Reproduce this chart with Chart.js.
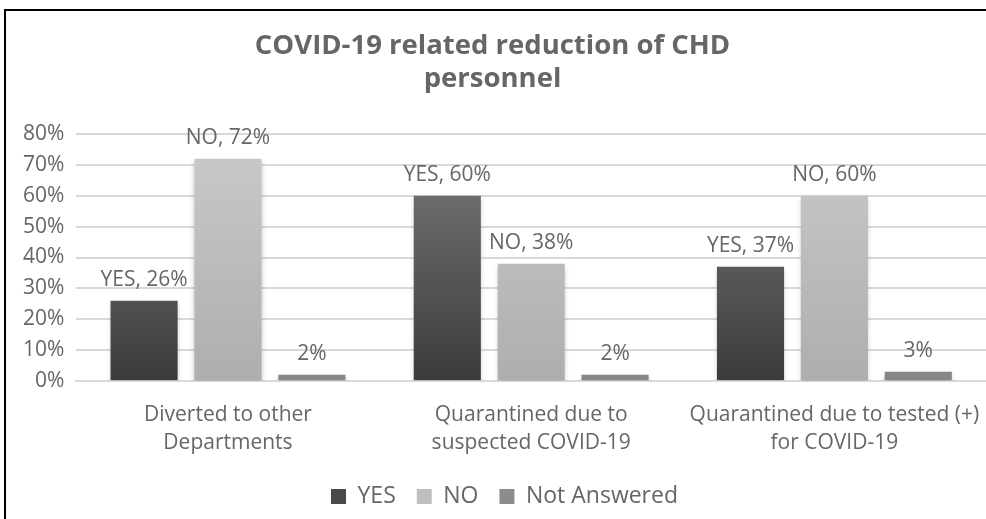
<!DOCTYPE html>
<html>
<head>
<meta charset="utf-8">
<script src="https://cdn.jsdelivr.net/npm/chart.js@4"></script>
<style>
  html, body { margin: 0; padding: 0; background: #fff; overflow: hidden; }
  #wrap { position: relative; width: 986px; height: 519px; }
  #frame {
    position: absolute; left: 4px; top: 9px; right: -4px; bottom: -4px;
    border-left: 2px solid #000; border-top: 2px solid #000;
    pointer-events: none;
  }
</style>
</head>
<body>
<div id="wrap">
  <canvas id="chart" width="986" height="519"></canvas>
  <div id="frame"></div>
</div>
<script>
// chart values
const categories = [
  ['Diverted to other', 'Departments'],
  ['Quarantined due to', 'suspected COVID-19'],
  ['Quarantined due to tested (+)', 'for COVID-19']
];
const seriesNames = ['YES', 'NO', 'Not Answered'];
const yesValues = [26, 60, 37];
const noValues = [72, 38, 60];
const notAnsweredValues = [2, 2, 3];
const yTicks = [0, 10, 20, 30, 40, 50, 60, 70, 80];

const textColor = '#666666';
const fontFamily = '"Open Sans", "Noto Sans", sans-serif';

// vertical gradient for a bar series
function gradient(top, bottom) {
  return (ctx) => {
    const area = ctx.chart.chartArea;
    if (!area) return bottom;
    const g = ctx.chart.ctx.createLinearGradient(0, area.top, 0, area.bottom);
    g.addColorStop(0, top);
    g.addColorStop(1, bottom);
    return g;
  };
}

// labels above each bar, Excel style "YES, 26%"
const barLabels = {
  id: 'barLabels',
  afterDatasetsDraw(chart) {
    const ctx = chart.ctx;
    ctx.save();
    ctx.font = '21px ' + fontFamily;
    ctx.fillStyle = textColor;
    ctx.textAlign = 'center';
    ctx.textBaseline = 'alphabetic';
    chart.data.datasets.forEach((ds, i) => {
      const meta = chart.getDatasetMeta(i);
      meta.data.forEach((bar, j) => {
        const v = ds.data[j] + '%';
        const txt = ds.showName ? ds.label + ', ' + v : v;
        ctx.fillText(txt, bar.x, bar.y - 15);
      });
    });
    ctx.restore();
  }
};

// soft shadow under the bars
const barShadow = {
  id: 'barShadow',
  beforeDatasetsDraw(chart) {
    const ctx = chart.ctx;
    ctx.save();
    ctx.shadowColor = 'rgba(0,0,0,0.22)';
    ctx.shadowBlur = 5;
    ctx.shadowOffsetY = 3;
  },
  afterDatasetsDraw(chart) {
    chart.ctx.restore();
  }
};

// nudge title and legend to where Excel put them
const blockNudge = {
  id: 'blockNudge',
  afterLayout(chart) {
    const t = chart.titleBlock;
    t.left -= 6; t.right -= 6;
    const lg = chart.legend;
    lg.left += 6; lg.right += 6;
    lg.top -= 13; lg.bottom -= 13;
  }
};

new Chart(document.getElementById('chart'), {
  type: 'bar',
  data: {
    labels: categories,
    datasets: [
      { label: seriesNames[0], data: yesValues, showName: true,
        backgroundColor: gradient('#7b7b7d', '#3b3b3d') },
      { label: seriesNames[1], data: noValues, showName: true,
        backgroundColor: gradient('#cacaca', '#aeaeae') },
      { label: seriesNames[2], data: notAnsweredValues, showName: false,
        backgroundColor: gradient('#949494', '#868686') }
    ]
  },
  options: {
    responsive: false,
    animation: false,
    categoryPercentage: 0.83,
    barPercentage: 0.8,
    layout: { padding: { left: 11, right: 0, top: 30, bottom: -12 } },
    plugins: {
      title: {
        display: true,
        text: ['COVID-19 related reduction of CHD', 'personnel'],
        color: textColor,
        font: { family: fontFamily, size: 27.5, weight: 'bold', lineHeight: 1.2 },
        padding: { top: 0, bottom: 38 }
      },
      legend: {
        position: 'bottom',
        labels: {
          color: textColor,
          font: { family: fontFamily, size: 23 },
          boxWidth: 15,
          boxHeight: 15,
          padding: 21,
          generateLabels(chart) {
            const fills = ['#4a4a4c', '#bfbfbf', '#8c8c8c'];
            return chart.data.datasets.map((ds, i) => ({
              text: ds.label,
              fillStyle: fills[i],
              strokeStyle: fills[i],
              lineWidth: 0,
              fontColor: textColor,
              datasetIndex: i
            }));
          }
        }
      },
      tooltip: { enabled: false }
    },
    scales: {
      x: {
        grid: { display: false, drawTicks: false },
        border: { color: '#d9d9d9', width: 2 },
        ticks: {
          color: textColor,
          font: { family: fontFamily, size: 21, lineHeight: 1.333 },
          maxRotation: 0,
          autoSkip: false,
          padding: 20
        },
        afterFit(scale) {
          scale.paddingLeft = 0;
          scale.paddingRight = 0;
        }
      },
      y: {
        min: yTicks[0],
        max: yTicks[yTicks.length - 1],
        afterBuildTicks(scale) {
          scale.ticks = yTicks.map(v => ({ value: v }));
        },
        grid: { color: '#d9d9d9', lineWidth: 2, drawTicks: false },
        border: { display: false },
        ticks: {
          color: textColor,
          font: { family: fontFamily, size: 21 },
          padding: 12,
          callback: v => v + '%'
        }
      }
    }
  },
  plugins: [barShadow, barLabels, blockNudge]
});
</script>
</body>
</html>
